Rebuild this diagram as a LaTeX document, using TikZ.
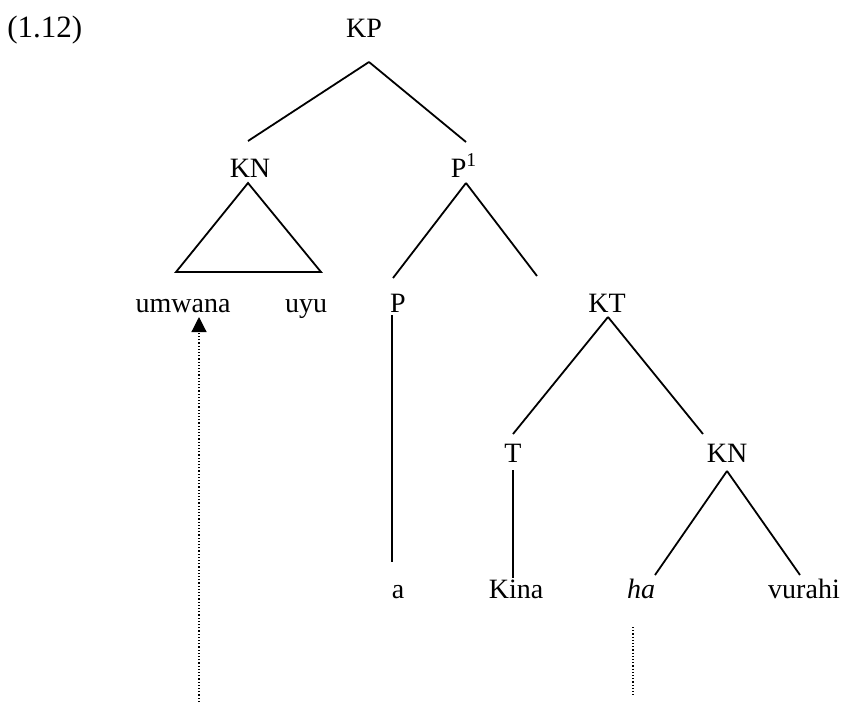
\documentclass[tikz,border=0pt]{standalone}
\usepackage{fontspec}
\setmainfont{Liberation Serif}
\usetikzlibrary{arrows.meta,calc}

\begin{document}
\begin{tikzpicture}[x=0.5pt,y=-0.5pt,font=\fontsize{14}{17}\selectfont,
  lbl/.style={anchor=base,inner sep=0pt},
  branch/.style={line width=0.9pt},
  trace/.style={line width=0.6pt,densely dotted}]
  \useasboundingbox (0,0) rectangle (845,702);
  \node[lbl,anchor=base west,font=\fontsize{15.5}{18}\selectfont] (exnum) at (7,37) {(1.12)};
  \node[lbl] (KP) at (364,37) {KP};
  \node[lbl] (KNa) at (250,177) {KN};
  \node[lbl] (Pbar) at (464,177) {P\textsuperscript{1}};
  \node[lbl] (umwana) at (183,312) {umwana};
  \node[lbl] (uyu) at (306,312) {uyu};
  \node[lbl] (P) at (398,312) {P};
  \node[lbl] (KT) at (607,312) {KT};
  \node[lbl] (T) at (513,462) {T};
  \node[lbl] (KNb) at (727,462) {KN};
  \node[lbl] (a) at (398,598) {a};
  \node[lbl] (Kina) at (516,598) {Kina};
  \node[lbl] (ha) at (641,598) {\textit{ha}};
  \node[lbl] (vurahi) at (804,598) {vurahi};

  \draw[branch] ($(KP.base)+(5,25)$) -- ($(KNa.base)+(-2,-36)$);
  \draw[branch] ($(KP.base)+(5,25)$) -- ($(Pbar.base)+(2,-35)$);
  % roof over umwana uyu
  \draw[branch] ($(KNa.base)+(-2,6)$) -- ($(KNa.base)+(-74,95)$) -- ($(KNa.base)+(71,95)$) -- cycle;
  \draw[branch] ($(Pbar.base)+(2,6)$) -- ($(P.base)+(-5,-34)$);
  \draw[branch] ($(Pbar.base)+(2,6)$) -- ($(KT.base)+(-70,-36)$);
  \draw[branch] ($(P.base)+(-6,3)$) -- ($(a.base)+(-6,-36)$);
  \draw[branch] ($(KT.base)+(1,5)$) -- ($(T.base)+(0,-28)$);
  \draw[branch] ($(KT.base)+(1,5)$) -- ($(KNb.base)+(-24,-28)$);
  \draw[branch] ($(T.base)+(0,8)$) -- ($(Kina.base)+(-3,-20)$);
  \draw[branch] ($(KNb.base)+(0,9)$) -- ($(ha.base)+(14,-23)$);
  \draw[branch] ($(KNb.base)+(0,9)$) -- ($(vurahi.base)+(-4,-23)$);

  % movement traces
  \coordinate (gap) at (199,702);
  \draw[trace,-{Triangle[width=7.5pt,length=7.5pt]}] (gap) -- ($(umwana.base)+(16,5)$);
  \draw[trace] ($(ha.base)+(-8,29)$) -- ($(ha.base)+(-8,99)$);
\end{tikzpicture}
\end{document}
